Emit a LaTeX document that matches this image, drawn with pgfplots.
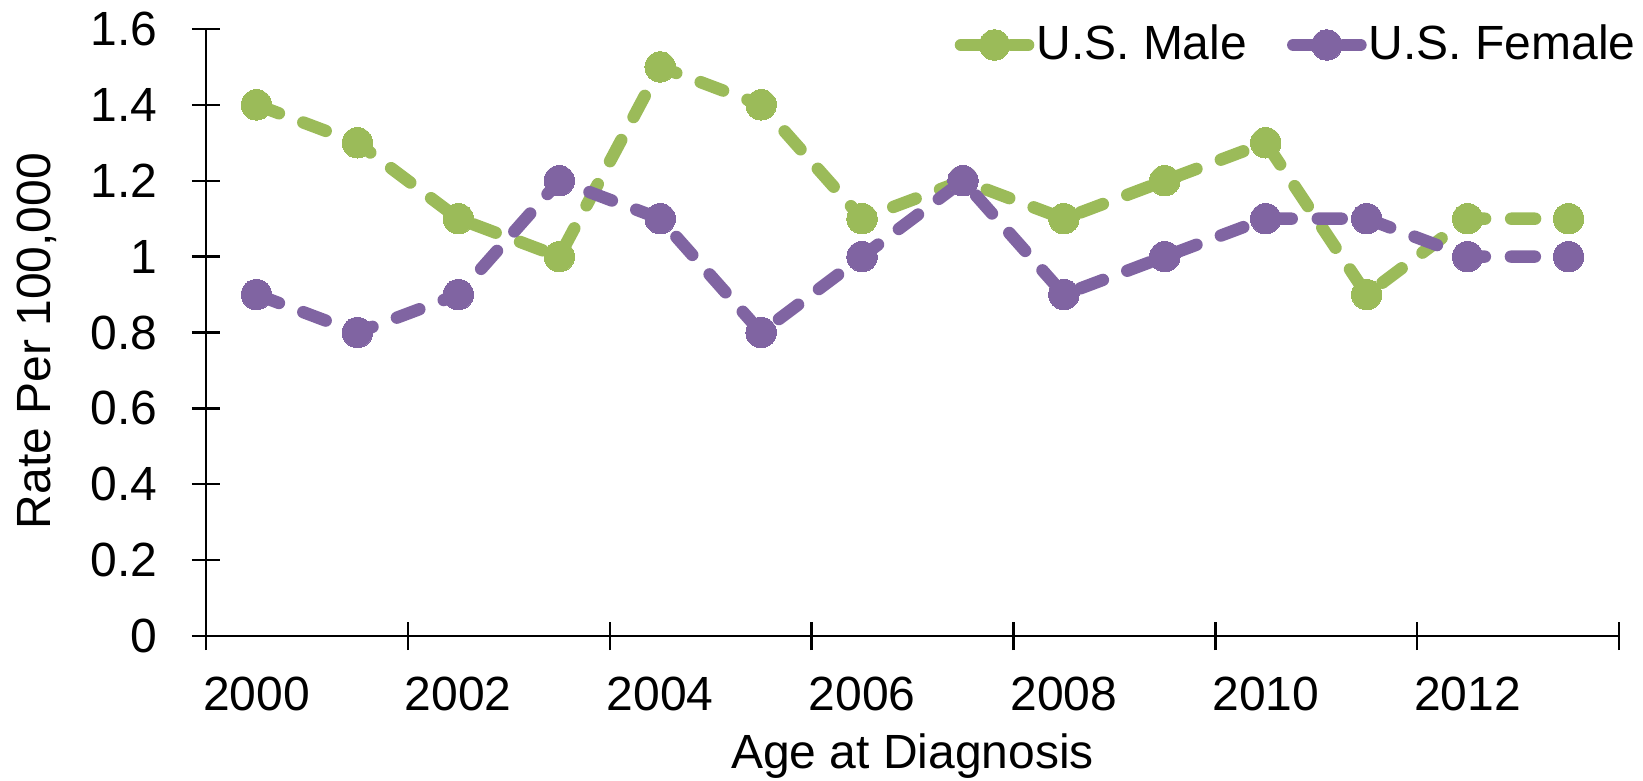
\documentclass[border=0pt]{standalone}
\usepackage{fontspec}
\setmainfont{Liberation Sans}
\usepackage{pgfplots}
\pgfplotsset{compat=1.18}
\definecolor{mgreen}{HTML}{9BBB59}
\definecolor{fpurple}{HTML}{8064A2}
\begin{document}
\begin{tikzpicture}
\begin{axis}[
  scale only axis,
  width=353.25pt, height=151.75pt,
  xmin=-0.5, xmax=13.5, ymin=0, ymax=1.6,
  axis x line=bottom, axis y line=left,
  axis line style={-, line width=0.6pt, black},
  tick style={line width=0.6pt, black},
  tick align=center,
  major tick length=7pt,
  xtick={-0.5,1.5,3.5,5.5,7.5,9.5,11.5,13.5},
  xticklabels={},
  extra x ticks={0,2,4,6,8,10,12},
  extra x tick labels={2000,2002,2004,2006,2008,2010,2012},
  extra x tick style={major tick length=0pt},
  ytick={0,0.2,0.4,0.6,0.8,1,1.2,1.4,1.6},
  yticklabels={0,0.2,0.4,0.6,0.8,1,1.2,1.4,1.6},
  /pgf/number format/assume math mode=true,
  tick label style={font=\fontsize{12}{14}\selectfont},
  yticklabel style={anchor=east, inner sep=1pt, xshift=-7.5pt},
  xticklabel style={anchor=north, yshift=-6.8pt},
  label style={font=\fontsize{12}{14}\selectfont, inner sep=0pt},
  xlabel={Age at Diagnosis},
  ylabel={Rate Per 100,000},
  xlabel style={at={(axis description cs:0.5,0)}, anchor=base, yshift=-33.1pt},
  ylabel style={at={(axis description cs:-0.1104,0.486)}, anchor=base},
  clip=false,
  legend columns=2,
  legend style={at={(axis description cs:1,1)}, anchor=north east, xshift=4.6pt, yshift=1.6pt,
    inner xsep=0pt, inner ysep=0pt, outer sep=0pt,
    draw=none, fill=none, font=\fontsize{12}{14}\selectfont,
    nodes={inner sep=0.5pt},
    /tikz/every even column/.append style={column sep=9.5pt}},
  legend image code/.code={\draw[mark repeat=2,mark phase=2,#1] plot coordinates {(1.6pt,0pt) (10pt,0pt) (18.4pt,0pt)};},
]
\addplot[color=mgreen, line width=3.1pt, line cap=round, dash pattern=on 6pt off 6.5pt,
  mark=*, mark size=3.8pt, mark options={solid, fill=mgreen, line width=0pt}]
  coordinates {(0,1.4) (1,1.3) (2,1.1) (3,1.0) (4,1.5) (5,1.4) (6,1.1) (7,1.2) (8,1.1) (9,1.2) (10,1.3) (11,0.9) (12,1.1) (13,1.1)};
\addlegendentry{U.S. Male}
\addplot[color=fpurple, line width=3.1pt, line cap=round, dash pattern=on 6pt off 6.5pt,
  mark=*, mark size=3.8pt, mark options={solid, fill=fpurple, line width=0pt}]
  coordinates {(0,0.9) (1,0.8) (2,0.9) (3,1.2) (4,1.1) (5,0.8) (6,1.0) (7,1.2) (8,0.9) (9,1.0) (10,1.1) (11,1.1) (12,1.0) (13,1.0)};
\addlegendentry{U.S. Female}
\end{axis}
\pgfresetboundingbox
\path[use as bounding box] ([shift={(-51.5pt,-36pt)}]current axis.south west) rectangle ([shift={(6pt,7.25pt)}]current axis.north east);
\end{tikzpicture}
\end{document}
